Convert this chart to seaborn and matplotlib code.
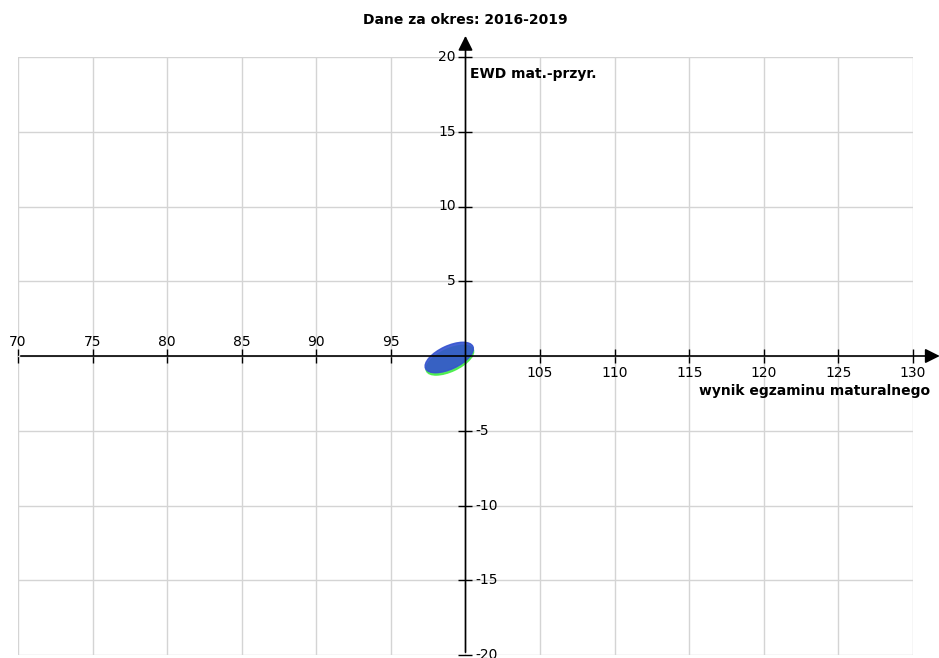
import matplotlib
matplotlib.use('Agg')
import seaborn as sns
import matplotlib.pyplot as plt
from matplotlib.patches import Ellipse

# Chart texts
title = 'Dane za okres: 2016-2019'
x_label = 'wynik egzaminu maturalnego'
y_label = 'EWD mat.-przyr.'

# Axis ranges and ticks
x_min, x_max, x_mid = 70, 130, 100
y_min, y_max, y_mid = -20, 20, 0
x_ticks = [70, 75, 80, 85, 90, 95, 100, 105, 110, 115, 120, 125, 130]
y_ticks = [-20, -15, -10, -5, 0, 5, 10, 15, 20]

# Ellipses (centre x, centre y, width, height, angle)
ellipse_names = ['green', 'blue']
ellipse_x = [98.95, 98.91]
ellipse_y = [-0.28, -0.1]
ellipse_w = [3.45, 3.5]
ellipse_h = [1.5, 1.55]
ellipse_angle = [25, 25]
ellipse_colors = ['#46ee46', '#3452d0']

sns.set_theme(style='whitegrid')
plt.rcParams['font.family'] = ['DejaVu Sans']
plt.rcParams['text.color'] = 'black'

fig = plt.figure(figsize=(9.39, 6.58), dpi=100)
ax = fig.add_axes([18 / 939, 3 / 658, 895 / 939, 598 / 658])
ax.set_xlim(x_min, x_max)
ax.set_ylim(y_min, y_max)
ax.set_xticks(x_ticks)
ax.set_yticks(y_ticks)
ax.grid(True, color='#d4d4d4', linewidth=1)
ax.set_axisbelow(True)

# Spines crossing at (100, 0), drawn as arrows below
ax.spines['left'].set_position(('data', x_mid))
ax.spines['bottom'].set_position(('data', y_mid))
for side in ['left', 'bottom', 'right', 'top']:
    ax.spines[side].set_visible(False)
ax.tick_params(direction='inout', length=10, width=1, color='black',
               labelbottom=False, labelleft=False, bottom=True, left=True)

# Ellipses
for i in range(len(ellipse_names)):
    e = Ellipse((ellipse_x[i], ellipse_y[i]), ellipse_w[i], ellipse_h[i],
                angle=ellipse_angle[i], facecolor=ellipse_colors[i],
                edgecolor=ellipse_colors[i], alpha=0.9, lw=1, zorder=3)
    ax.add_patch(e)

# Axis lines with arrow heads
ax.annotate('', xy=(1.033, y_mid), xytext=(0, y_mid),
            xycoords=ax.get_yaxis_transform(), textcoords=ax.get_yaxis_transform(),
            arrowprops=dict(arrowstyle='-|>', color='black', lw=1.2, mutation_scale=22),
            annotation_clip=False, zorder=5)
ax.annotate('', xy=(x_mid, 1.04), xytext=(x_mid, 0),
            xycoords=ax.get_xaxis_transform(), textcoords=ax.get_xaxis_transform(),
            arrowprops=dict(arrowstyle='-|>', color='black', lw=1.2, mutation_scale=22),
            annotation_clip=False, zorder=5)

# Tick labels: left of centre above axis, right of centre below
for t in x_ticks:
    if t < x_mid:
        ax.annotate(str(t), (t, y_mid), xytext=(0, 5), textcoords='offset points',
                    ha='center', va='bottom', fontsize=10, annotation_clip=False)
    elif t > x_mid:
        ax.annotate(str(t), (t, y_mid), xytext=(0, -7), textcoords='offset points',
                    ha='center', va='top', fontsize=10, annotation_clip=False)
for t in y_ticks:
    if t > y_mid:
        ax.annotate(str(t), (x_mid, t), xytext=(-7, 0), textcoords='offset points',
                    ha='right', va='center', fontsize=10, annotation_clip=False)
    elif t < y_mid:
        ax.annotate(str(t), (x_mid, t), xytext=(7, 0), textcoords='offset points',
                    ha='left', va='center', fontsize=10, annotation_clip=False)

# Titles
fig.text(465 / 939, 1 - 20 / 658, title, ha='center', va='center',
         fontsize=10, fontweight='bold')
ax.annotate(y_label, (x_mid, y_max), xytext=(3, -7), textcoords='offset points',
            ha='left', va='top', fontsize=10, fontweight='bold')
ax.annotate(x_label, (1.0, y_mid), xycoords=ax.get_yaxis_transform(),
            xytext=(12, -20), textcoords='offset points',
            ha='right', va='top', fontsize=10, fontweight='bold', annotation_clip=False)

fig.savefig('out.png', dpi=100)
